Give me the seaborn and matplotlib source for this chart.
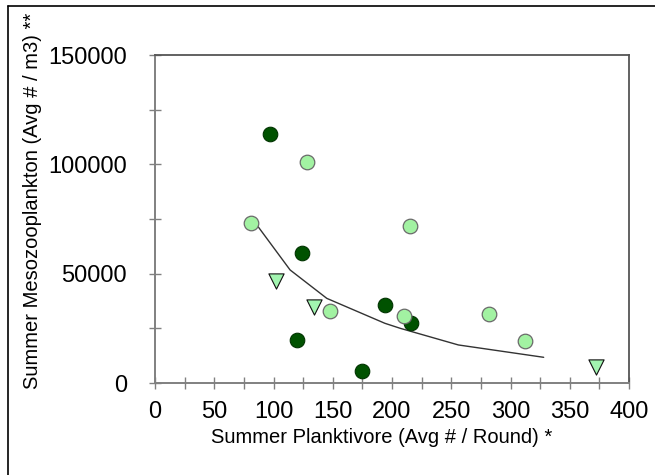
import matplotlib
matplotlib.use("Agg")
import matplotlib.pyplot as plt
from matplotlib.ticker import MultipleLocator, FuncFormatter
from matplotlib.lines import Line2D
import seaborn as sns
import pandas as pd

sns.set_theme(style="white")
plt.rcParams["font.family"] = ["Liberation Sans", "DejaVu Sans"]

# Planktivore (x) vs mesozooplankton (y) by site group
dark_x = [97, 124, 120, 175, 194, 216]
dark_y = [113700, 59500, 19500, 5500, 35800, 27300]

light_x = [81, 128, 148, 210, 215, 282, 312]
light_y = [73200, 101200, 32800, 30800, 71800, 31400, 19200]

tri_x = [102, 134, 372]
tri_y = [46800, 34600, 7450]

# Fitted trend
fit_x = [87, 114, 145, 194, 207, 256, 328]
fit_y = [71500, 51700, 38700, 27300, 25000, 17400, 11750]

x_ticks = [0, 50, 100, 150, 200, 250, 300, 350, 400]
y_ticks = [0, 50000, 100000, 150000]

df = pd.concat([
    pd.DataFrame({"x": dark_x, "y": dark_y, "grp": "A"}),
    pd.DataFrame({"x": light_x, "y": light_y, "grp": "B"}),
    pd.DataFrame({"x": tri_x, "y": tri_y, "grp": "C"}),
], ignore_index=True)

fig = plt.figure(figsize=(6.55, 4.75), dpi=100)
ax = fig.add_axes([155 / 655, 1 - 383 / 475, 474 / 655, 328 / 475])

sns.lineplot(x=fit_x, y=fit_y, ax=ax, color="#333333", linewidth=1.0,
             sort=False, estimator=None, zorder=2)

sns.scatterplot(data=df[df.grp == "A"], x="x", y="y", ax=ax, marker="o",
                s=110, color="#005200", edgecolor="#003300", linewidth=0.8,
                zorder=3, legend=False)
sns.scatterplot(data=df[df.grp == "B"], x="x", y="y", ax=ax, marker="o",
                s=110, color="#a2f2a2", edgecolor="#6a6a6a", linewidth=0.9,
                zorder=3, legend=False)
sns.scatterplot(data=df[df.grp == "C"], x="x", y="y", ax=ax, marker="v",
                s=120, color="#a2f5b0", edgecolor="#111111", linewidth=0.8,
                zorder=3, legend=False)

ax.set_xlim(0, 400)
ax.set_ylim(0, 150000)
ax.set_xticks(x_ticks)
ax.set_yticks(y_ticks)
ax.xaxis.set_minor_locator(MultipleLocator(25))
ax.yaxis.set_minor_locator(MultipleLocator(25000))
ax.xaxis.set_major_formatter(FuncFormatter(lambda v, p: f"{v:.0f}"))
ax.yaxis.set_major_formatter(FuncFormatter(lambda v, p: f"{v:.0f}"))

for which in ("major", "minor"):
    ax.tick_params(axis="both", which=which, direction="inout", length=8,
                   width=1, color="#808080")
ax.tick_params(axis="both", which="major", labelsize=17, colors="#808080",
               labelcolor="black")
ax.tick_params(axis="x", which="major", pad=9)
ax.tick_params(axis="y", which="major", pad=16)
ax.tick_params(bottom=True, left=True, which="both")

for side in ("left", "bottom"):
    ax.spines[side].set_color("#808080")
    ax.spines[side].set_linewidth(1.4)
for side in ("top", "right"):
    ax.spines[side].set_visible(True)
    ax.spines[side].set_color("#555555")
    ax.spines[side].set_linewidth(1.3)

ax.set_xlabel("Summer Planktivore (Avg # / Round) *", fontsize=14.5,
              color="black")
ax.set_ylabel("Summer Mesozooplankton (Avg # / m3) **", fontsize=14.5,
              color="black")
# axis titles placed in pixel terms relative to the plot box
ax.yaxis.set_label_coords((42 - 155) / 474, (383 - 201) / 328)
ax.xaxis.set_label_coords((382 - 155) / 474, (383 - 428) / 328)

# Outer frame on left and top
fig.add_artist(Line2D([7.5 / 655, 7.5 / 655], [0, 1 - 6 / 475],
                      transform=fig.transFigure, color="black", linewidth=1.2))
fig.add_artist(Line2D([7.5 / 655, 1], [1 - 6 / 475, 1 - 6 / 475],
                      transform=fig.transFigure, color="black", linewidth=1.2))

fig.savefig("out.png", dpi=100, facecolor="white")
